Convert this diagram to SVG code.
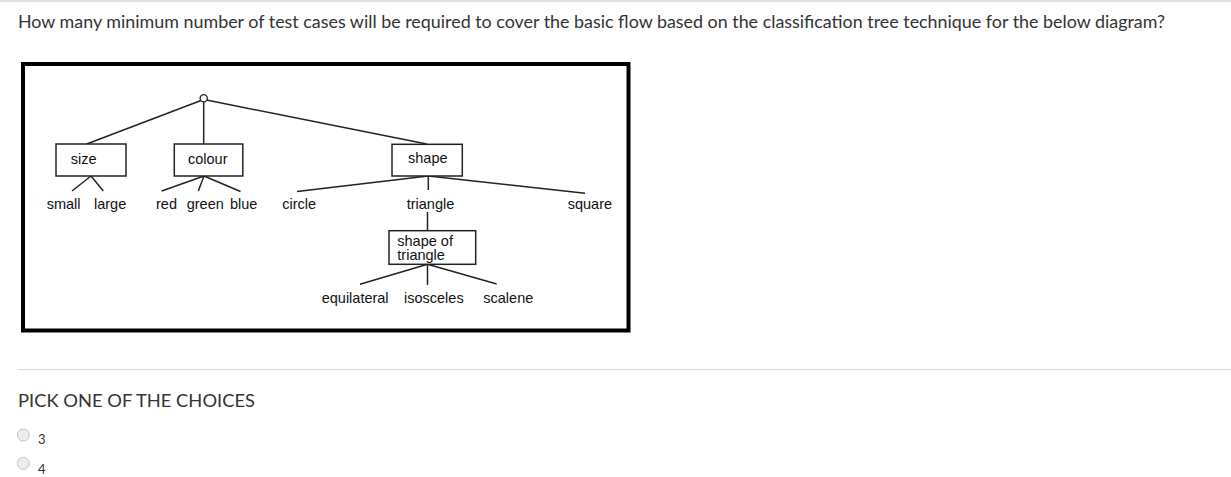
<svg xmlns="http://www.w3.org/2000/svg" width="1231" height="477" viewBox="0 0 1231 477">
<style>
.page{font-family:Lato,"Open Sans","Liberation Sans",sans-serif;fill:#333}
.lbl{font-family:"Liberation Sans",Arial,sans-serif;font-size:14.5px;fill:#111}
.box{fill:#fff;stroke:#222;stroke-width:1.5}
.ln{stroke:#222;stroke-width:1.5;fill:none}
.radio{fill:#ececec;stroke:#c4c4c4;stroke-width:1}
</style>
<rect width="1231" height="477" fill="#fff"/>
<line x1="0" y1="1" x2="1231" y2="1" stroke="#e2e2e2" stroke-width="2"/>
<text class="page" x="18" y="28" font-size="17" textLength="1147" lengthAdjust="spacingAndGlyphs">How many minimum number of test cases will be required to cover the basic flow based on the classification tree technique for the below diagram?</text>
<rect x="23" y="64" width="605.5" height="266.5" fill="#fff" stroke="#000" stroke-width="4"/>
<g id="connectors" class="ln">
<line x1="201" y1="100.5" x2="86.7" y2="144"/>
<line x1="203.7" y1="102" x2="203.7" y2="144"/>
<line x1="206.5" y1="100" x2="426.7" y2="144"/>
<line x1="91" y1="176" x2="72" y2="191"/>
<line x1="91" y1="176" x2="103.3" y2="191"/>
<line x1="204" y1="176" x2="161.7" y2="191"/>
<line x1="204" y1="176" x2="198.3" y2="191"/>
<line x1="204" y1="176" x2="240.5" y2="191.5"/>
<line x1="428.3" y1="176" x2="297" y2="191.5"/>
<line x1="428.3" y1="176" x2="428.3" y2="190"/>
<line x1="428.3" y1="176" x2="585" y2="193.3"/>
<line x1="427.5" y1="212" x2="427.5" y2="230.7"/>
<line x1="427.5" y1="264.3" x2="360" y2="284.3"/>
<line x1="427.5" y1="264.3" x2="427.5" y2="285"/>
<line x1="427.5" y1="264.3" x2="496.7" y2="284"/>
</g>
<g id="root"><circle cx="203.7" cy="98.3" r="3.6" fill="#fff" stroke="#222" stroke-width="1.3"/></g>
<g id="size"><rect class="box" x="56" y="144" width="70" height="32"/><text class="lbl" x="70.7" y="163.5">size</text></g>
<g id="colour"><rect class="box" x="174.3" y="144" width="68.5" height="32"/><text class="lbl" x="188" y="163.5">colour</text></g>
<g id="shape"><rect class="box" x="392" y="144.3" width="70.3" height="31.7"/><text class="lbl" x="408" y="163">shape</text></g>
<g id="shape-of-triangle"><rect class="box" x="389" y="230.7" width="86.7" height="33.6"/><text class="lbl" x="397.3" y="245.5">shape of</text><text class="lbl" x="397.3" y="259.5">triangle</text></g>
<g id="small"><text class="lbl" x="46.7" y="209">small</text></g>
<g id="large"><text class="lbl" x="94" y="209">large</text></g>
<g id="red"><text class="lbl" x="156" y="209">red</text></g>
<g id="green"><text class="lbl" x="186.7" y="209">green</text></g>
<g id="blue"><text class="lbl" x="230" y="209">blue</text></g>
<g id="circle"><text class="lbl" x="282.3" y="209">circle</text></g>
<g id="triangle"><text class="lbl" x="406.7" y="209">triangle</text></g>
<g id="square"><text class="lbl" x="567.7" y="209">square</text></g>
<g id="equilateral"><text class="lbl" x="321.7" y="303">equilateral</text></g>
<g id="isosceles"><text class="lbl" x="404" y="303">isosceles</text></g>
<g id="scalene"><text class="lbl" x="483.3" y="303">scalene</text></g>
<line x1="18" y1="369.5" x2="1231" y2="369.5" stroke="#ddd" stroke-width="1"/>
<text class="page" x="18" y="407" font-size="17.5" textLength="237" lengthAdjust="spacingAndGlyphs">PICK ONE OF THE CHOICES</text>
<circle class="radio" cx="23.3" cy="435" r="6"/>
<text class="page" x="38" y="444" font-size="13">3</text>
<circle class="radio" cx="23.3" cy="463.3" r="6"/>
<text class="page" x="38" y="474" font-size="13">4</text>
</svg>
